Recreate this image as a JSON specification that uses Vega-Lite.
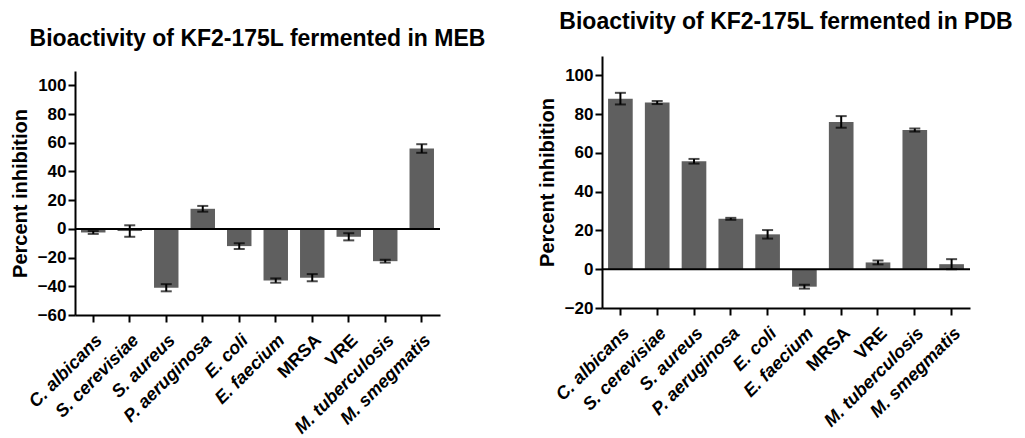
{
  "$schema": "https://vega.github.io/schema/vega-lite/v6.json",
  "padding": {"left": 10, "top": 11, "right": 5, "bottom": 5},
  "background": "white",
  "bounds": "flush",
  "spacing": 162,
  "config": {
    "view": {"stroke": null},
    "font": "Liberation Sans",
    "axis": {
      "grid": false,
      "domainColor": "black",
      "domainWidth": 2,
      "tickColor": "black",
      "tickWidth": 2,
      "tickSize": 7,
      "labelFont": "Liberation Sans",
      "labelFontWeight": "bold",
      "labelFontSize": 17,
      "labelColor": "black",
      "labelOverlap": false,
      "titleFont": "Liberation Sans",
      "titleFontWeight": "bold",
      "titleFontSize": 20,
      "titleColor": "black"
    },
    "title": {
      "font": "Liberation Sans",
      "fontSize": 23,
      "fontWeight": "bold",
      "color": "black",
      "anchor": "middle",
      "frame": "group"
    }
  },
  "datasets": {
    "meb": [
      {"organism": "C. albicans", "value": -2.5, "err": 1},
      {"organism": "S. cerevisiae", "value": -1.5, "err": 4},
      {"organism": "S. aureus", "value": -41, "err": 2.5},
      {"organism": "P. aeruginosa", "value": 14, "err": 2},
      {"organism": "E. coli", "value": -12, "err": 2},
      {"organism": "E. faecium", "value": -36, "err": 1.5},
      {"organism": "MRSA", "value": -34, "err": 2.5},
      {"organism": "VRE", "value": -5.5, "err": 2.5},
      {"organism": "M. tuberculosis", "value": -22.5, "err": 1},
      {"organism": "M. smegmatis", "value": 56, "err": 3}
    ],
    "pdb": [
      {"organism": "C. albicans", "value": 88, "err": 3},
      {"organism": "S. cerevisiae", "value": 86, "err": 0.8},
      {"organism": "S. aureus", "value": 55.7, "err": 1.2},
      {"organism": "P. aeruginosa", "value": 26, "err": 0.5},
      {"organism": "E. coli", "value": 18, "err": 2.2},
      {"organism": "E. faecium", "value": -9, "err": 1},
      {"organism": "MRSA", "value": 76, "err": 3},
      {"organism": "VRE", "value": 3.5, "err": 1},
      {"organism": "M. tuberculosis", "value": 71.8, "err": 0.8},
      {"organism": "M. smegmatis", "value": 2.6, "err": 2.6}
    ],
    "zero": [{"z": 0}]
  },
  "hconcat": [
    {
      "width": 365,
      "height": 259,
      "title": {"text": "Bioactivity of KF2-175L fermented in MEB", "offset": 5},
      "layer": [
        {
          "data": {"name": "meb"},
          "mark": {"type": "bar", "color": "#5f5f5f"},
          "encoding": {
            "x": {"field": "organism", "type": "nominal", "sort": null,
              "scale": {"paddingInner": 0.33, "paddingOuter": 0.165},
              "axis": {"title": null, "labelAngle": -45, "labelAlign": "right", "labelBaseline": "top", "labelPadding": 9, "labelFontSize": 18,
                "labelFontStyle": {"condition": {"test": "datum.value === 'MRSA' || datum.value === 'VRE'", "value": "normal"}, "value": "italic"}}},
            "y": {"field": "value", "type": "quantitative", "title": "Percent inhibition",
              "scale": {"domain": [-60, 110], "range": [259, 15], "nice": false, "zero": false},
              "axis": {"values": [-60, -40, -20, 0, 20, 40, 60, 80, 100], "tickCount": 20, "labelPadding": 2, "titlePadding": 7, "labelFontSize": 17}}
          }
        },
        {
          "data": {"name": "zero"},
          "mark": {"type": "rule", "color": "black", "strokeWidth": 2},
          "encoding": {"y": {"field": "z", "type": "quantitative", "title": "Percent inhibition"}}
        },
        {
          "data": {"name": "meb"},
          "mark": {"type": "errorbar", "color": "black", "thickness": 2, "ticks": {"size": 11, "thickness": 2, "color": "black"}},
          "encoding": {
            "x": {"field": "organism", "type": "nominal", "sort": null},
            "y": {"field": "value", "type": "quantitative", "title": "Percent inhibition"},
            "yError": {"field": "err"}
          }
        }
      ]
    },
    {
      "width": 368,
      "height": 252,
      "title": {"text": "Bioactivity of KF2-175L fermented in PDB", "offset": 22},
      "layer": [
        {
          "data": {"name": "pdb"},
          "mark": {"type": "bar", "color": "#5f5f5f"},
          "encoding": {
            "x": {"field": "organism", "type": "nominal", "sort": null,
              "scale": {"paddingInner": 0.33, "paddingOuter": 0.165},
              "axis": {"title": null, "labelAngle": -45, "labelAlign": "right", "labelBaseline": "top", "labelPadding": 9, "labelFontSize": 18,
                "labelFontStyle": {"condition": {"test": "datum.value === 'MRSA' || datum.value === 'VRE'", "value": "normal"}, "value": "italic"}}},
            "y": {"field": "value", "type": "quantitative", "title": "Percent inhibition",
              "scale": {"domain": [-20, 110], "nice": false, "zero": false},
              "axis": {"values": [-20, 0, 20, 40, 60, 80, 100], "tickCount": 20, "labelPadding": 2, "titlePadding": 7, "labelFontSize": 17}}
          }
        },
        {
          "data": {"name": "zero"},
          "mark": {"type": "rule", "color": "black", "strokeWidth": 2},
          "encoding": {"y": {"field": "z", "type": "quantitative", "title": "Percent inhibition"}}
        },
        {
          "data": {"name": "pdb"},
          "mark": {"type": "errorbar", "color": "black", "thickness": 2, "ticks": {"size": 11, "thickness": 2, "color": "black"}},
          "encoding": {
            "x": {"field": "organism", "type": "nominal", "sort": null},
            "y": {"field": "value", "type": "quantitative", "title": "Percent inhibition"},
            "yError": {"field": "err"}
          }
        }
      ]
    }
  ]
}
